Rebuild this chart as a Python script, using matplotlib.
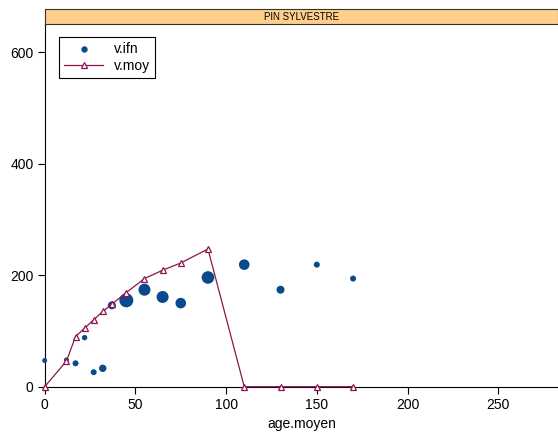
import matplotlib
matplotlib.use("Agg")
import matplotlib.pyplot as plt

plt.rcParams['font.family'] = ['Liberation Sans', 'DejaVu Sans']

# Data
age = [0, 12, 17, 22, 27, 32, 37, 45, 55, 65, 75, 90, 110, 130, 150, 170]
v_ifn = [47, 48, 42, 88, 26, 33, 146, 155, 174, 161, 150, 196, 219, 174, 219, 194]
# point radius (px)
rayon = [2.5, 2.5, 3, 2.7, 3, 3.7, 4, 7, 6, 6, 5.3, 6.3, 5.3, 4, 3, 3]
v_moy = [0, 46, 90, 105, 120, 135, 148, 169, 194, 209, 222, 247, 0, 0, 0, 0]

bleu = "#0A4A8C"
bordeaux = "#8C1450"

fig = plt.figure(figsize=(5.58, 4.37), dpi=100)
W, H = 558, 437
left, bottom, top = 44.7, 386.7, 24.3
ax = fig.add_axes([left / W, (H - bottom) / H, 1 - left / W, (bottom - top) / H])

sizes = [(2 * r * 0.72) ** 2 for r in rayon]
ax.scatter(age, v_ifn, s=sizes, color=bleu, linewidths=0, zorder=3,
           clip_on=False, label="v.ifn")
ax.plot(age, v_moy, color=bordeaux, lw=0.9, marker="^", markersize=4.5,
        markerfacecolor="white", markeredgecolor=bordeaux, markeredgewidth=0.9,
        zorder=4, clip_on=False, label="v.moy")

ax.set_xlim(0, (W - left) / 1.814)
ax.set_ylim(0, (bottom - top) / 0.5573)
ax.set_xticks([0, 50, 100, 150, 200, 250])
ax.set_yticks([0, 200, 400, 600])
ax.spines["top"].set_visible(False)
ax.spines["right"].set_visible(False)
ax.tick_params(direction="out", length=5, width=0.8, labelsize=10, pad=3)
ax.set_xlabel("age.moyen", fontsize=10, labelpad=4)

leg = ax.legend(loc="upper left", bbox_to_anchor=(0.015, 0.985), fontsize=10,
                fancybox=False, edgecolor="black", framealpha=1,
                handlelength=2.8, handletextpad=0.8, borderpad=0.35,
                labelspacing=0.25)
leg.get_frame().set_linewidth(0.8)
leg.legend_handles[0].set_sizes([(2 * 3.2 * 0.72) ** 2])

# strip
strip = fig.add_axes([left / W, (H - top) / H, 1 - left / W, 15 / H])
strip.set_xticks([])
strip.set_yticks([])
strip.set_facecolor("#FFD08C")
for s in strip.spines.values():
    s.set_linewidth(0.8)
    s.set_color("#333333")
strip.text(0.5, 0.5, "PIN SYLVESTRE", ha="center", va="center", fontsize=7,
           transform=strip.transAxes)

fig.savefig("out.png", dpi=100)
